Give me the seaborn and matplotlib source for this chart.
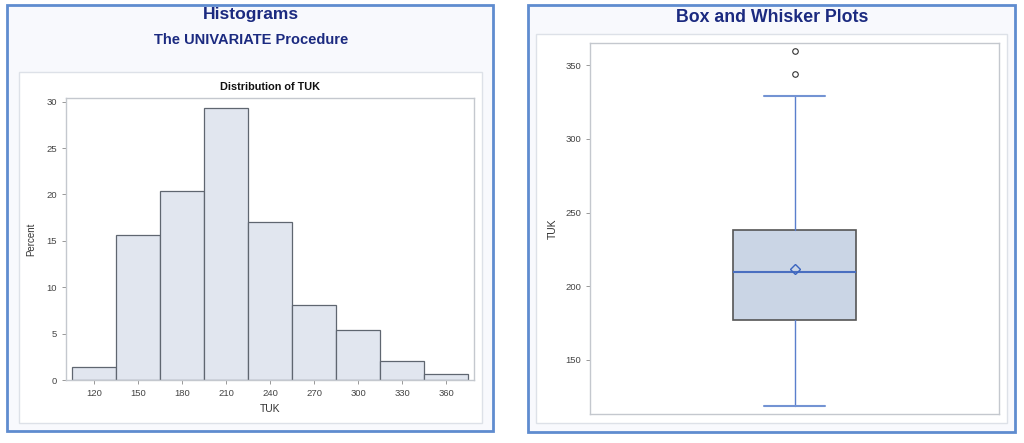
import matplotlib
matplotlib.use('Agg')
import matplotlib.pyplot as plt
from matplotlib.patches import Rectangle
import seaborn as sns
import numpy as np

# histogram data (percent per 30-wide bin)
bin_mids = [120, 150, 180, 210, 240, 270, 300, 330, 360]
percents = [1.4, 15.6, 20.4, 29.3, 17.0, 8.1, 5.4, 2.1, 0.7]
bin_edges = [105, 135, 165, 195, 225, 255, 285, 315, 345, 375]
hist_xticks = [120, 150, 180, 210, 240, 270, 300, 330, 360]
hist_yticks = [0, 5, 10, 15, 20, 25, 30]

# box plot summary stats for TUK
box_q1 = 177
box_median = 210
box_q3 = 238
box_mean = 212
whisker_low = 119
whisker_high = 329
outliers = [344, 360]
box_yticks = [150, 200, 250, 300, 350]

W, H = 1024, 443
NAVY = '#1b2a80'
BORDER = '#5f8ccf'

sns.set_theme(style='white')
plt.rcParams['font.family'] = ['Liberation Sans', 'DejaVu Sans']


def rect(x0, y0, x1, y1):
    return [x0 / W, 1 - y1 / H, (x1 - x0) / W, (y1 - y0) / H]


fig = plt.figure(figsize=(W / 100, H / 100), dpi=100)
fig.patch.set_facecolor('white')


def panel(x0, y0, x1, y1, ix0, iy0, ix1, iy1):
    fig.patches.append(Rectangle((x0 / W, 1 - y1 / H), (x1 - x0) / W, (y1 - y0) / H,
                                 transform=fig.transFigure, facecolor='#f8f9fd',
                                 edgecolor=BORDER, linewidth=2, zorder=-2))
    fig.patches.append(Rectangle((ix0 / W, 1 - iy1 / H), (ix1 - ix0) / W, (iy1 - iy0) / H,
                                 transform=fig.transFigure, facecolor='white',
                                 edgecolor='#dde1e8', linewidth=1, zorder=-1))


panel(7, 5, 493, 431, 19, 72, 482, 423)
panel(528, 5, 1015, 432, 536, 34, 1007, 423)

fig.text(251 / W, 1 - 15 / H, 'Histograms', ha='center', va='center',
         fontsize=12.6, fontweight='bold', color=NAVY)
fig.text(251 / W, 1 - 40 / H, 'The UNIVARIATE Procedure', ha='center', va='center',
         fontsize=10.5, fontweight='bold', color=NAVY)
fig.text(772 / W, 1 - 17 / H, 'Box and Whisker Plots', ha='center', va='center',
         fontsize=12.8, fontweight='bold', color=NAVY)

FRAME = '#c4c8ce'
TICKC = '#444444'

# ---- histogram ----
ax1 = fig.add_axes(rect(66, 98, 474, 380))
sns.histplot(x=bin_mids, weights=percents, bins=bin_edges, ax=ax1,
             color='#e1e6ef', edgecolor='#5f6670', linewidth=0.9, alpha=1)
ax1.set_xlim(101, 379)
ax1.set_ylim(0, 30.4)
ax1.set_xticks(hist_xticks)
ax1.set_yticks(hist_yticks)
ax1.set_xlabel('TUK', fontsize=7.5, color='#333333', labelpad=4)
ax1.set_ylabel('Percent', fontsize=7, color='#333333', labelpad=7)
ax1.set_title('Distribution of TUK', fontsize=7.8, fontweight='bold', color='#111111', pad=6)

# ---- box plot ----
ax2 = fig.add_axes(rect(590, 43, 999, 414))
stats = [dict(q1=box_q1, med=box_median, q3=box_q3, mean=box_mean,
              whislo=whisker_low, whishi=whisker_high, fliers=outliers)]
ax2.bxp(stats, positions=[1], widths=0.3, capwidths=0.15, showmeans=True,
        patch_artist=True,
        boxprops=dict(facecolor='#cad5e5', edgecolor='#555555', linewidth=1.2),
        medianprops=dict(color='#4a6fc0', linewidth=1.5),
        whiskerprops=dict(color='#5a7fcc', linewidth=1),
        capprops=dict(color='#7393d3', linewidth=1.5),
        meanprops=dict(marker='D', markerfacecolor='none', markeredgecolor='#3a64c0',
                       markersize=5.5, markeredgewidth=1),
        flierprops=dict(marker='o', markerfacecolor='none', markeredgecolor='#333333',
                        markersize=4, markeredgewidth=0.8))
ax2.set_xlim(0.5, 1.5)
ax2.set_ylim(113.3, 365.1)
ax2.set_xticks([])
ax2.set_yticks(box_yticks)
ax2.set_ylabel('TUK', fontsize=7.5, color='#333333', labelpad=5)

for ax in (ax1, ax2):
    ax.set_facecolor('white')
    for s in ax.spines.values():
        s.set_visible(True)
        s.set_color(FRAME)
        s.set_linewidth(1)
    ax.tick_params(axis='both', which='major', labelsize=6.8, labelcolor=TICKC,
                   color='#888888', length=3, width=0.6, direction='out',
                   bottom=True, left=True)
    ax.grid(False)
ax2.tick_params(axis='x', bottom=False)

fig.savefig('out.png', dpi=100)
